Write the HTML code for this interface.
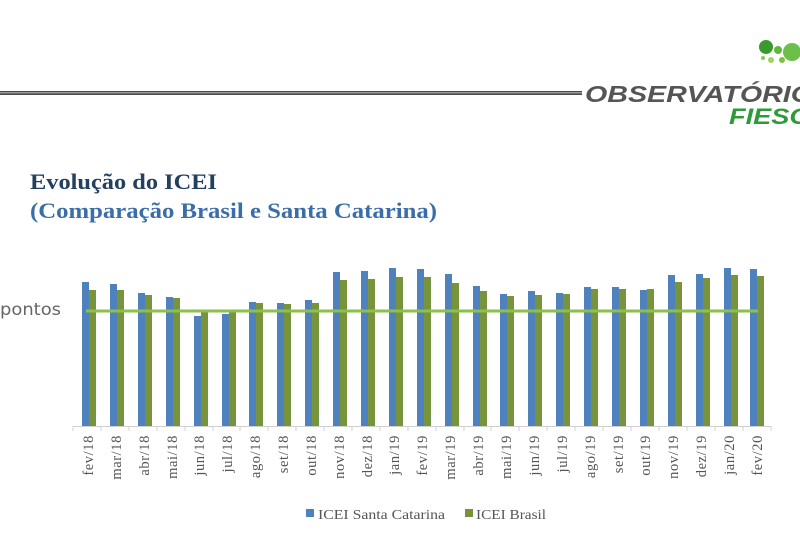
<!DOCTYPE html>
<html><head><meta charset="utf-8"><style>
html,body{margin:0;padding:0;background:#fff;width:800px;height:533px;overflow:hidden}
svg{display:block}
</style></head><body>
<svg width="800" height="533" viewBox="0 0 800 533" xmlns="http://www.w3.org/2000/svg">
<rect width="800" height="533" fill="#fff"/>
<!-- header line & logo -->
<rect x="0" y="91" width="582" height="4" fill="#4a4a4a"/>
<rect x="0" y="92" width="582" height="1.5" fill="#9a9a9a"/>
<circle cx="766" cy="47" r="7" fill="#3a9a2c"/>
<circle cx="778" cy="50" r="4" fill="#5cb83a"/>
<circle cx="792" cy="52" r="9" fill="#6cc04a"/>
<circle cx="763" cy="58" r="2" fill="#8cc84a"/>
<circle cx="771" cy="60" r="3" fill="#a6d060"/>
<circle cx="782" cy="60" r="3" fill="#7cc040"/>
<text x="585" y="102" font-family="Liberation Sans, sans-serif" font-size="23" font-weight="bold" font-style="italic" fill="#555" textLength="228" lengthAdjust="spacingAndGlyphs">OBSERVATÓRIO</text>
<text x="729" y="124" font-family="Liberation Sans, sans-serif" font-size="22" font-weight="bold" font-style="italic" fill="#2e9a3a" textLength="80" lengthAdjust="spacingAndGlyphs">FIESC</text>
<!-- title -->
<text x="30" y="189" font-family="Liberation Serif, serif" font-size="22" font-weight="bold" fill="#23405e" textLength="187" lengthAdjust="spacingAndGlyphs">Evolução do ICEI</text>
<text x="30" y="218" font-family="Liberation Serif, serif" font-size="22" font-weight="bold" fill="#3b6ea8" textLength="407" lengthAdjust="spacingAndGlyphs">(Comparação Brasil e Santa Catarina)</text>
<text x="0" y="315" font-family="DejaVu Sans, sans-serif" font-size="17" fill="#666" textLength="61" lengthAdjust="spacingAndGlyphs">pontos</text>
<!-- bars -->
<g fill="#4f81bd">
<rect x="82" y="282" width="7" height="144"/><rect x="110" y="284" width="7" height="142"/><rect x="138" y="293" width="7" height="133"/><rect x="166" y="297" width="7" height="129"/><rect x="194" y="316" width="7" height="110"/><rect x="222" y="314" width="7" height="112"/><rect x="249" y="302" width="7" height="124"/><rect x="277" y="303" width="7" height="123"/><rect x="305" y="300" width="7" height="126"/><rect x="333" y="272" width="7" height="154"/><rect x="361" y="271" width="7" height="155"/><rect x="389" y="268" width="7" height="158"/><rect x="417" y="269" width="7" height="157"/><rect x="445" y="274" width="7" height="152"/><rect x="473" y="286" width="7" height="140"/><rect x="500" y="294" width="7" height="132"/><rect x="528" y="291" width="7" height="135"/><rect x="556" y="293" width="7" height="133"/><rect x="584" y="287" width="7" height="139"/><rect x="612" y="287" width="7" height="139"/><rect x="640" y="290" width="7" height="136"/><rect x="668" y="275" width="7" height="151"/><rect x="696" y="274" width="7" height="152"/><rect x="724" y="268" width="7" height="158"/><rect x="750" y="269" width="7" height="157"/>
</g>
<g fill="#77933c">
<rect x="89" y="290" width="7" height="136"/><rect x="117" y="290" width="7" height="136"/><rect x="145" y="295" width="7" height="131"/><rect x="173" y="298" width="7" height="128"/><rect x="201" y="311" width="7" height="115"/><rect x="229" y="311" width="7" height="115"/><rect x="256" y="303" width="7" height="123"/><rect x="284" y="304" width="7" height="122"/><rect x="312" y="303" width="7" height="123"/><rect x="340" y="280" width="7" height="146"/><rect x="368" y="279" width="7" height="147"/><rect x="396" y="277" width="7" height="149"/><rect x="424" y="277" width="7" height="149"/><rect x="452" y="283" width="7" height="143"/><rect x="480" y="291" width="7" height="135"/><rect x="507" y="296" width="7" height="130"/><rect x="535" y="295" width="7" height="131"/><rect x="563" y="294" width="7" height="132"/><rect x="591" y="289" width="7" height="137"/><rect x="619" y="289" width="7" height="137"/><rect x="647" y="289" width="7" height="137"/><rect x="675" y="282" width="7" height="144"/><rect x="703" y="278" width="7" height="148"/><rect x="731" y="275" width="7" height="151"/><rect x="757" y="276" width="7" height="150"/>
</g>
<line x1="86" y1="311" x2="758" y2="311" stroke="#8dbf4a" stroke-width="3"/>
<!-- axis -->
<g stroke="#d0d0d0" stroke-width="1">
<line x1="73" y1="426.5" x2="771" y2="426.5"/>
<line x1="73" y1="426" x2="73" y2="431"/><line x1="101" y1="426" x2="101" y2="431"/><line x1="129" y1="426" x2="129" y2="431"/><line x1="157" y1="426" x2="157" y2="431"/><line x1="185" y1="426" x2="185" y2="431"/><line x1="213" y1="426" x2="213" y2="431"/><line x1="240" y1="426" x2="240" y2="431"/><line x1="268" y1="426" x2="268" y2="431"/><line x1="296" y1="426" x2="296" y2="431"/><line x1="324" y1="426" x2="324" y2="431"/><line x1="352" y1="426" x2="352" y2="431"/><line x1="380" y1="426" x2="380" y2="431"/><line x1="408" y1="426" x2="408" y2="431"/><line x1="436" y1="426" x2="436" y2="431"/><line x1="464" y1="426" x2="464" y2="431"/><line x1="491" y1="426" x2="491" y2="431"/><line x1="519" y1="426" x2="519" y2="431"/><line x1="547" y1="426" x2="547" y2="431"/><line x1="575" y1="426" x2="575" y2="431"/><line x1="603" y1="426" x2="603" y2="431"/><line x1="631" y1="426" x2="631" y2="431"/><line x1="659" y1="426" x2="659" y2="431"/><line x1="687" y1="426" x2="687" y2="431"/><line x1="715" y1="426" x2="715" y2="431"/><line x1="743" y1="426" x2="743" y2="431"/><line x1="771" y1="426" x2="771" y2="431"/>
</g>
<g font-family="Liberation Serif, serif" font-size="14.5" fill="#555" text-anchor="end" letter-spacing="0.6">
<text transform="translate(93,435) rotate(-90)">fev/18</text>
<text transform="translate(121,435) rotate(-90)">mar/18</text>
<text transform="translate(149,435) rotate(-90)">abr/18</text>
<text transform="translate(177,435) rotate(-90)">mai/18</text>
<text transform="translate(204,435) rotate(-90)">jun/18</text>
<text transform="translate(232,435) rotate(-90)">jul/18</text>
<text transform="translate(260,435) rotate(-90)">ago/18</text>
<text transform="translate(288,435) rotate(-90)">set/18</text>
<text transform="translate(316,435) rotate(-90)">out/18</text>
<text transform="translate(344,435) rotate(-90)">nov/18</text>
<text transform="translate(372,435) rotate(-90)">dez/18</text>
<text transform="translate(399,435) rotate(-90)">jan/19</text>
<text transform="translate(427,435) rotate(-90)">fev/19</text>
<text transform="translate(455,435) rotate(-90)">mar/19</text>
<text transform="translate(483,435) rotate(-90)">abr/19</text>
<text transform="translate(511,435) rotate(-90)">mai/19</text>
<text transform="translate(539,435) rotate(-90)">jun/19</text>
<text transform="translate(567,435) rotate(-90)">jul/19</text>
<text transform="translate(595,435) rotate(-90)">ago/19</text>
<text transform="translate(623,435) rotate(-90)">set/19</text>
<text transform="translate(650,435) rotate(-90)">out/19</text>
<text transform="translate(678,435) rotate(-90)">nov/19</text>
<text transform="translate(706,435) rotate(-90)">dez/19</text>
<text transform="translate(734,435) rotate(-90)">jan/20</text>
<text transform="translate(762,435) rotate(-90)">fev/20</text>
</g>
<!-- legend -->
<rect x="306" y="509" width="8" height="8" fill="#4f81bd"/>
<text x="318" y="519" font-family="Liberation Serif, serif" font-size="14" fill="#555" textLength="127" lengthAdjust="spacingAndGlyphs">ICEI Santa Catarina</text>
<rect x="465" y="509" width="8" height="8" fill="#77933c"/>
<text x="476" y="519" font-family="Liberation Serif, serif" font-size="14" fill="#555" textLength="70" lengthAdjust="spacingAndGlyphs">ICEI Brasil</text>
</svg>
</body></html>
